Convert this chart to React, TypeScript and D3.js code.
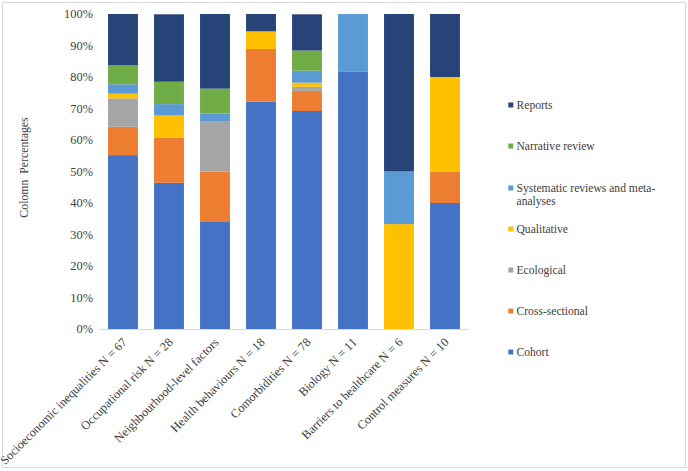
import React from "react";
import * as d3 from "d3";

const categories = [
  "Socioeconomic inequalities N = 67",
  "Occupational risk N = 28",
  "Neighbourhood-level factors",
  "Health behaviours N = 18",
  "Comorbidities N = 78",
  "Biology N = 11",
  "Barriers to healthcare N = 6",
  "Control measures N = 10",
];

const seriesNames = [
  "Cohort",
  "Cross-sectional",
  "Ecological",
  "Qualitative",
  "Systematic reviews and meta-analyses",
  "Narrative review",
  "Reports",
];

const cohort = [55.2, 46.4, 34.2, 72.2, 69.2, 81.8, 0, 40];
const crossSectional = [9.0, 14.3, 15.8, 16.7, 6.4, 0, 0, 10];
const ecological = [9.0, 0, 15.8, 0, 1.3, 0, 0, 0];
const qualitative = [1.5, 7.1, 0, 5.6, 1.3, 0, 33.3, 30];
const systematic = [3.0, 3.6, 2.6, 0, 3.8, 18.2, 16.7, 0];
const narrative = [6.0, 7.1, 7.9, 0, 6.4, 0, 0, 0];
const reports = [16.4, 21.4, 23.7, 5.6, 11.5, 0, 50, 20];

const yTicks = [0, 10, 20, 30, 40, 50, 60, 70, 80, 90, 100];

const colors = ["#4472C4", "#ED7D31", "#A5A5A5", "#FFC000", "#5B9BD5", "#70AD47", "#264478"];

const allSeries = [cohort, crossSectional, ecological, qualitative, systematic, narrative, reports];

const FONT = "Liberation Serif";

export default function App() {
  const W = 688;
  const H = 471;
  const left = 100;
  const right = 468;
  const top = 14;
  const bottom = 329;

  const x = d3.scaleBand<string>().domain(categories).range([left, right]).paddingInner(0.35).paddingOuter(0.175);
  const y = d3.scaleLinear().domain([0, 100]).range([bottom, top]);

  const table = categories.map((c, i) => {
    const row: any = { cat: c };
    seriesNames.forEach((s, k) => (row[s] = allSeries[k][i]));
    return row;
  });
  const stacked = d3.stack<any>().keys(seriesNames)(table);

  const legendY = [105, 146, 188, 229, 270, 311, 352];
  const legendOrder = [6, 5, 4, 3, 2, 1, 0];
  const ts = { fontFamily: FONT };

  return (
    <svg width={W} height={H} style={{ position: "absolute", left: 0, top: 0 }}>
      <rect x={0} y={0} width={W} height={H} fill="#fff" />
      <rect x={2.5} y={2.5} width={683} height={465} fill="none" stroke="#d9d9d9" />
      {stacked.map((layer, k) => (
        <g key={k} fill={colors[k]}>
          {layer.map((d, i) =>
            d[1] - d[0] > 0 ? (
              <rect
                key={i}
                x={x(categories[i])}
                width={x.bandwidth()}
                y={y(Math.min(d[1], 100))}
                height={y(d[0]) - y(Math.min(d[1], 100))}
              />
            ) : null
          )}
        </g>
      ))}
      <line x1={left} x2={right} y1={bottom + 0.5} y2={bottom + 0.5} stroke="#d9d9d9" />
      {yTicks.map((t) => (
        <text key={t} x={93} y={y(t)} dy="0.35em" textAnchor="end" fontSize={12.4} fill="#404040" style={ts}>
          {t}%
        </text>
      ))}
      <text
        transform={`translate(27.5,167.5) rotate(-90)`}
        textAnchor="middle"
        fontSize={11.8}
        fill="#404040"
        style={{ ...ts, whiteSpace: "pre" }}
      >
        {"Colomn  Percentages"}
      </text>
      {categories.map((c) => (
        <text
          key={c}
          transform={`translate(${(x(c) as number) + x.bandwidth() / 2 + 4.5},${bottom + 14}) rotate(-45)`}
          textAnchor="end"
          fontSize={12.3}
          fill="#404040"
          style={ts}
        >
          {c}
        </text>
      ))}
      {legendOrder.map((k, j) => (
        <g key={k}>
          <rect x={508.3} y={legendY[j] - 2.5} width={5} height={5} fill={colors[k]} />
          {k === 4 ? (
            <text x={516.5} y={legendY[j]} dy="0.35em" fontSize={11.6} fill="#404040" style={ts}>
              <tspan x={516.5}>Systematic reviews and meta-</tspan>
              <tspan x={516.5} dy="1.15em">analyses</tspan>
            </text>
          ) : (
            <text x={516.5} y={legendY[j]} dy="0.35em" fontSize={11.6} fill="#404040" style={ts}>
              {seriesNames[k]}
            </text>
          )}
        </g>
      ))}
    </svg>
  );
}
